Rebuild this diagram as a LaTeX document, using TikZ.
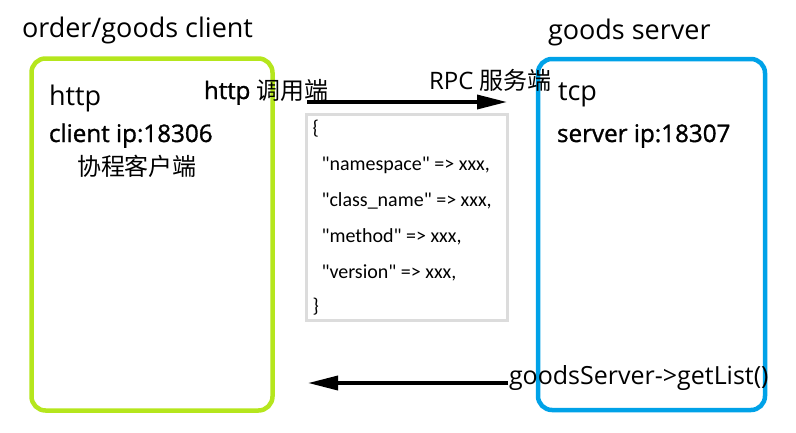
\documentclass[tikz,border=0pt]{standalone}
\usepackage{fontspec}
\setmainfont{Open Sans}
\newfontfamily\semib[FakeBold=1.2]{Open Sans}
\newfontfamily\cjk{Noto Sans CJK SC}
\newfontfamily\jsonfont{Carlito}
\usetikzlibrary{arrows.meta}
\definecolor{paintlime}{RGB}{181,230,29}
\definecolor{paintblue}{RGB}{0,162,232}
\definecolor{boxgray}{RGB}{220,220,220}
\tikzset{
  lbl/.style={anchor=base west, inner sep=0pt, outer sep=0pt},
  hostbox/.style={draw, line width=4.5pt, rounded corners=14pt, fill=none, inner sep=0pt},
  jsonline/.style={lbl, font=\jsonfont\fontsize{20}{24}\selectfont},
  callarrow/.style={line width=3.5pt, -{Triangle[length=30pt, width=14pt]}},
}
\begin{document}
\begin{tikzpicture}[x=1pt, y=-1pt]
\useasboundingbox (0,0) rectangle (796,432);
% host boxes
\node[hostbox, draw=paintlime, minimum width=241pt, minimum height=352pt] (client) at (152,234.5) {};
\node[hostbox, draw=paintblue, minimum width=227pt, minimum height=351pt] (server) at (651.5,234.5) {};
% payload box
\node[draw=boxgray, line width=3pt, minimum width=201pt, minimum height=206pt, inner sep=0pt] (payload) at (407,217.5) {};
% headings
\node[lbl, font=\fontsize{27}{32}\selectfont] (clienttitle) at (22,37) {order/goods client};
\node[lbl, font=\fontsize{27}{32}\selectfont] (servertitle) at (548,39.5) {goods server};
% client content
\node[lbl, font=\fontsize{27}{32}\selectfont] (http) at (49,105) {http};
\node[lbl, font=\semib\fontsize{24.2}{28}\selectfont] (clientip) at (49,142) {client ip:18306};
\node[lbl, font=\cjk\fontsize{24}{28}\selectfont] (coroutine) at (77,175) {协程客户端};
% server content
\node[lbl, font=\fontsize{27}{32}\selectfont] (tcp) at (558,100) {tcp};
\node[lbl, font=\semib\fontsize{24.2}{28}\selectfont] (serverip) at (557,142) {server ip:18307};
% arrow labels
\node[lbl, font=\fontsize{24}{28}\selectfont] (caller) at (204,99) {{\semib http} {\cjk 调用端}};
\node[lbl, font=\fontsize{24}{28}\selectfont] (rpc) at (429,89) {RPC {\cjk 服务端}};
\node[lbl, font=\fontsize{25}{30}\selectfont] (getlist) at (509,384) {goodsServer->getList()};
% json lines
\node[jsonline] (j0) at (312.5,134) {\{};
\node[jsonline] (j1) at (321.5,170) {"namespace" => xxx,};
\node[jsonline] (j2) at (321.5,206) {"class\_name" => xxx,};
\node[jsonline] (j3) at (321.5,242) {"method" => xxx,};
\node[jsonline] (j4) at (321.5,278) {"version" => xxx,};
\node[jsonline] (j5) at (312.5,312) {\}};
% arrows
\coordinate (reqstart) at (307,102);
\coordinate (reqend) at (507,102);
\coordinate (respstart) at (508,383);
\coordinate (respend) at (308,383);
\draw[callarrow] (reqstart) -- (reqend);
\draw[callarrow] (respstart) -- (respend);
\end{tikzpicture}
\end{document}
